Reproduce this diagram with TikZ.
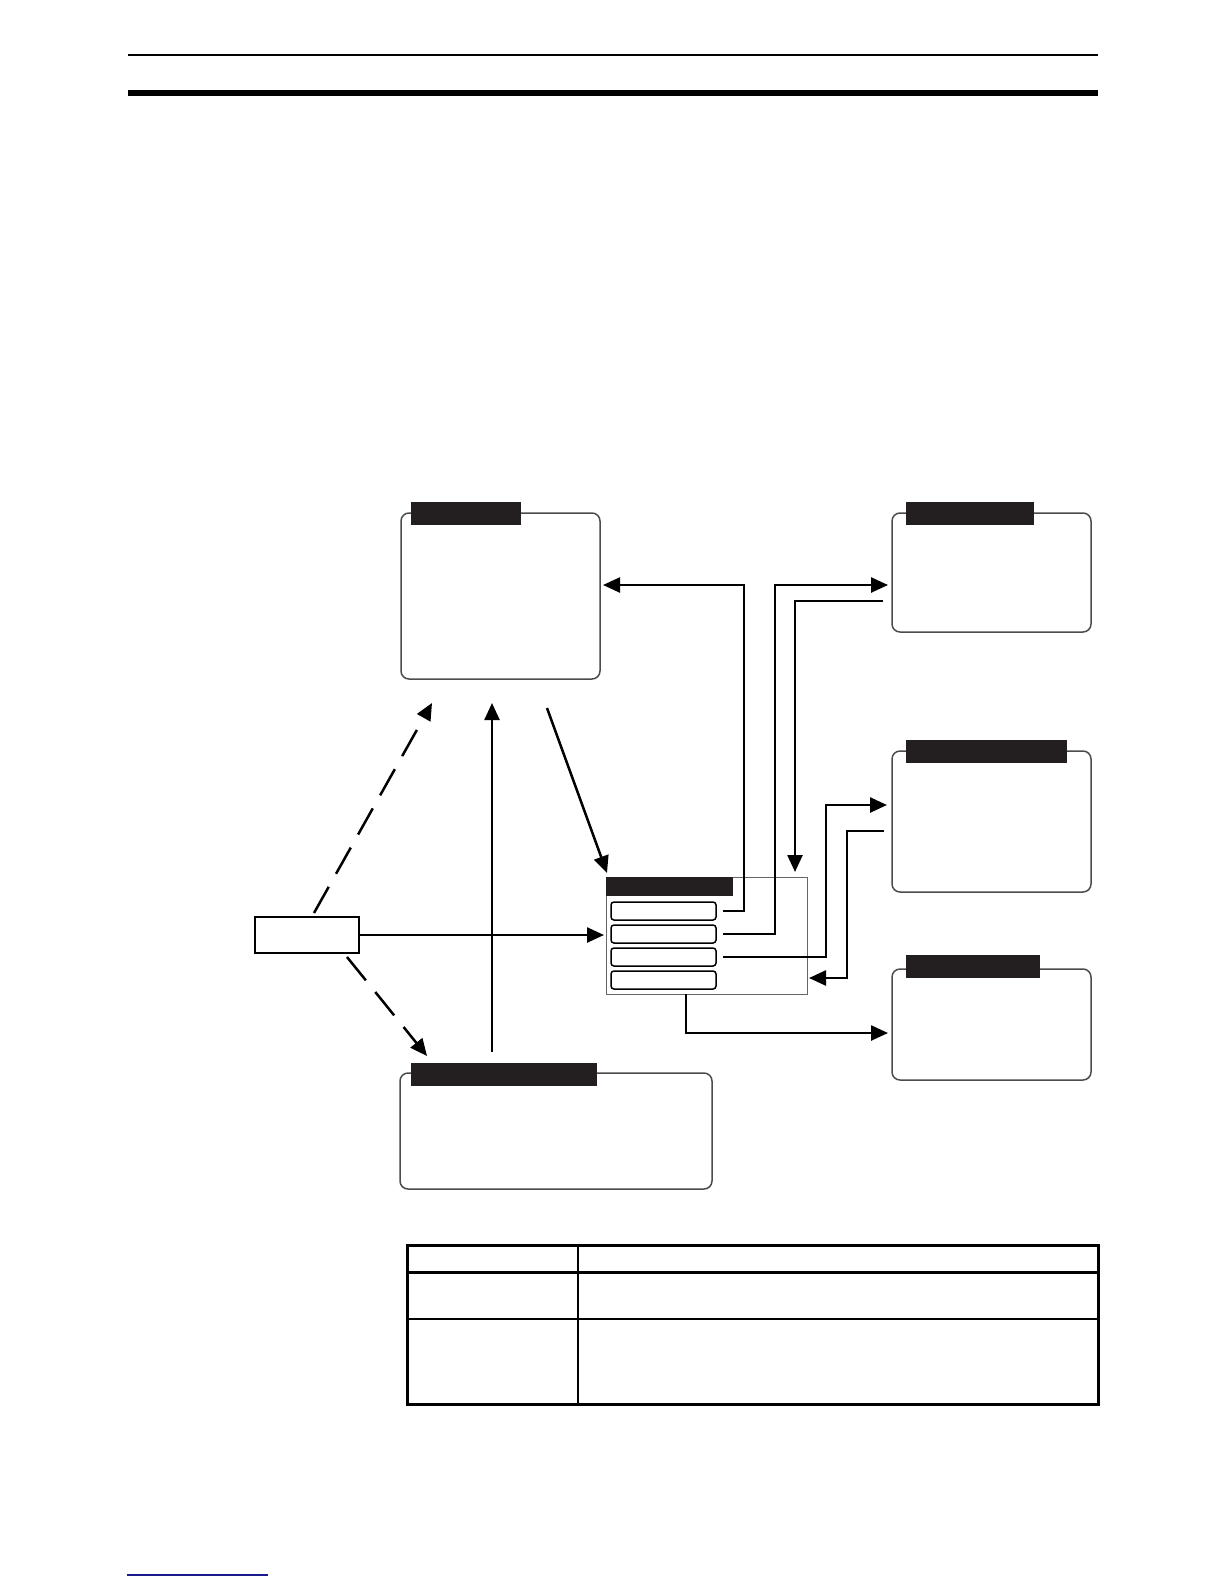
\documentclass[tikz,border=0pt]{standalone}
\usepackage{tikz}
\usetikzlibrary{positioning}
\usetikzlibrary{calc}
\usetikzlibrary{arrows.meta}
\definecolor{tabblack}{HTML}{231F20}
\definecolor{linkblue}{HTML}{1A1A8C}

\begin{document}
\begin{tikzpicture}[x=1pt,y=-1pt,
	panel/.style={draw=black!70,line width=1.5pt,rounded corners=8pt,anchor=north west,inner sep=0pt,outer sep=0pt},
	tab/.style={fill=tabblack,anchor=north west,inner sep=0pt,outer sep=0pt,minimum height=23pt},
	btn/.style={draw,line width=1.5pt,rounded corners=3pt,anchor=north west,inner sep=0pt,outer sep=0pt,minimum width=105pt,minimum height=18pt},
	link/.style={line width=2.5pt,-{Triangle[length=17pt,width=15pt]}},
	dashlink/.style={link,dash pattern=on 30pt off 15pt}]
	\useasboundingbox (0,0) rectangle (1224,1584);
	
	\draw[line width=1.5pt] (128,55) -- (1098,55);
	\fill (128,90) rectangle (1098,96);
	
	\node[panel,minimum width=199pt,minimum height=166pt] at (401,513) (1mode) {};
	\node[tab,minimum width=110pt] at (411,502) (1modetab) {};
	\node[panel,minimum width=199pt,minimum height=119pt] at (892,513) (1stat) {};
	\node[tab,minimum width=128pt] at (906,502) (1stattab) {};
	\node[panel,minimum width=199pt,minimum height=141pt] at (892,751) (2cfg) {};
	\node[tab,minimum width=161pt] at (906,740) (2cfgtab) {};
	\node[panel,minimum width=199pt,minimum height=111pt] at (892,969) (3out) {};
	\node[tab,minimum width=134pt] at (906,955) (3outtab) {};
	\node[panel,minimum width=312pt,minimum height=116pt] at (400,1073) (2ctl) {};
	\node[tab,minimum width=186pt] at (411,1063) (2ctltab) {};
	\node[draw=black!60,line width=1pt,anchor=north west,inner sep=0pt,outer sep=0pt,minimum width=201pt,minimum height=117pt] at (606,877) (3menu) {};
	\node[tab,minimum width=127pt,minimum height=19pt] at (606,877) (3menutab) {};
	\node[btn] at (611,902) (1btn) {};
	\node[btn,below=5pt of 1btn] (2btn) {}; \node[btn,below=5pt of 2btn] (3btn) {}; \node[btn,below=5pt of 3btn] (4btn) {};
	\node[draw,line width=1.2pt,anchor=north west,inner sep=0pt,outer sep=0pt,minimum width=104pt,minimum height=36pt] at (255,917) (1src) {};
	
	\draw[link] ([xshift=7pt]1btn.east) -| ($(1mode.north east)+(144,72)$) -- ($(1mode.north east)+(3,72)$);
	\draw[link] ([xshift=7pt]2btn.east) -| ($(1stat.north west)+(-117,72)$) -- ($(1stat.north west)+(-4,72)$);
	\draw[link] ($(1stat.north west)+(-9,88)$) -| ($(3menu.north east)+(-12,-5)$);
	\draw[link] ([xshift=7pt]3btn.east) -| ($(2cfg.north west)+(-66,54)$) -- ($(2cfg.north west)+(-5,54)$);
	\draw[link] ($(2cfg.north west)+(-8,80)$) -| ($(3menu.north east)+(40,101)$) -- ($(3menu.north east)+(2,101)$);
	\draw[link] ($(3menu.south west)+(80,0)$) |- ($(3out.north west)+(-4,64)$);
	\draw[link] (1src.east) -- ($(3menu.west |- 1src.east)+(-2,0)$);
	\draw[dashlink] ($(1src.north west)+(59,-4)$) -- ($(1mode.south west)+(31,24)$);
	\draw[dashlink] ($(1src.south east)+(-12,4)$) -- ($(2ctl.north west)+(27,-17)$);
	\draw[link] ($(2ctl.north west)+(92,-21)$) -- ($(1mode.south west)+(91,24)$);
	\draw[link] ($(1mode.south west)+(146,29)$) -- ($(3menu.north west)+(1,-4)$);
	
	\draw[line width=3pt] (407,1245) rectangle (1098,1404);
	\draw[line width=3pt] (407,1272) -- (1098,1272);
	\draw[line width=2pt] (407,1319) -- (1098,1319);
	\draw[line width=2pt] (578,1245) -- (578,1404);
	
	\draw[linkblue,line width=1.2pt] (127,1575) -- (268,1575);
\end{tikzpicture}
\end{document}
